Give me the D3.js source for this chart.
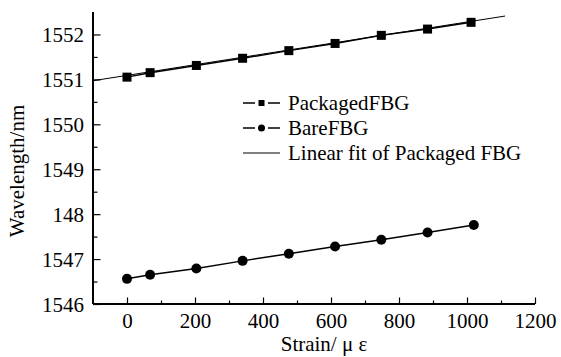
<!DOCTYPE html>
<html>
<head>
<meta charset="utf-8">
<script src="https://cdn.jsdelivr.net/npm/d3@7"></script>
<style>
  body { margin: 0; background: #fff; }
</style>
</head>
<body>
<svg id="chart" width="561" height="357"></svg>
<script>
// data
const strainPackaged = [0, 68, 204, 340, 476, 612, 748, 884, 1012];
const wavePackaged = [1551.05, 1551.15, 1551.31, 1551.47, 1551.64, 1551.80, 1551.98, 1552.12, 1552.27];
const strainBare = [0, 68, 204, 340, 476, 612, 748, 884, 1020];
const waveBare = [1546.56, 1546.65, 1546.79, 1546.96, 1547.12, 1547.28, 1547.43, 1547.59, 1547.76];
const fitStrain = [-100, 1112];
const fitWave = [1550.97, 1552.41];
const xTicks = [0, 200, 400, 600, 800, 1000, 1200];
const yTicks = [1546, 1547, 1548, 1549, 1550, 1551, 1552];
const yTickLabels = ["1546", "1547", "148", "1549", "1550", "1551", "1552"];
const legendLabels = ["PackagedFBG", "BareFBG", "Linear fit of Packaged FBG"];

const FONT = "'Liberation Serif', 'DejaVu Serif', serif";
const FS = 21;

const svg = d3.select("#chart");
const x = d3.scaleLinear().domain([-100, 1200]).range([93, 535]);
const y = d3.scaleLinear().domain([1546, 1552.5]).range([304, 12]);

// x axis (ticks pointing inward)
const xAxis = svg.append("g").attr("transform", "translate(0,304)");
xAxis.call(d3.axisBottom(x).tickValues(d3.range(0, 1201, 100)).tickSize(-3.5).tickFormat(""));
xAxis.call(g => g.selectAll(".tick line").attr("stroke-width", 1.2)
    .filter(d => d % 200 === 0).attr("y2", -6.5));
xAxis.selectAll(".tick")
    .filter(d => xTicks.includes(d))
    .append("text")
    .attr("y", 24)
    .attr("text-anchor", "middle")
    .attr("font-family", FONT)
    .attr("font-size", FS)
    .attr("fill", "#000")
    .text(d => d);
xAxis.select(".domain").attr("d", `M${x(-100)},0H${x(1200)}`).attr("stroke-width", 2);

// y axis
const yAxis = svg.append("g").attr("transform", "translate(93,0)");
yAxis.call(d3.axisLeft(y).tickValues(d3.range(0, 13).map(i => 1546 + i * 0.5)).tickSize(-4.5).tickFormat(""));
yAxis.call(g => g.selectAll(".tick line").attr("stroke-width", 1.2)
    .filter(d => Number.isInteger(d)).attr("x2", 7.5));
yAxis.selectAll(".tick")
    .filter(d => Number.isInteger(d))
    .append("text")
    .attr("x", -9)
    .attr("dy", "0.35em")
    .attr("text-anchor", "end")
    .attr("font-family", FONT)
    .attr("font-size", FS)
    .attr("fill", "#000")
    .text(d => yTickLabels[yTicks.indexOf(d)]);
yAxis.select(".domain").attr("d", `M0,${y(1546)}V${y(1552.5)}`).attr("stroke-width", 2);

// axis titles
svg.append("text")
    .attr("x", 324).attr("y", 351)
    .attr("text-anchor", "middle")
    .attr("font-family", FONT)
    .attr("font-size", FS)
    .text("Strain/ μ ε");
svg.append("text")
    .attr("transform", "translate(24,171) rotate(-90)")
    .attr("text-anchor", "middle")
    .attr("font-family", FONT)
    .attr("font-size", FS)
    .text("Wavelength/nm");

const line = d3.line().x(d => x(d[0])).y(d => y(d[1]));

// linear fit
svg.append("path")
    .datum(d3.zip(fitStrain, fitWave))
    .attr("d", line)
    .attr("fill", "none")
    .attr("stroke", "#000")
    .attr("stroke-width", 1);

// packaged
const packaged = d3.zip(strainPackaged, wavePackaged);
svg.append("path")
    .datum(packaged)
    .attr("d", line)
    .attr("fill", "none")
    .attr("stroke", "#000")
    .attr("stroke-width", 1.5);
svg.selectAll(".sq")
    .data(packaged)
    .join("rect")
    .attr("x", d => x(d[0]) - 4.5)
    .attr("y", d => y(d[1]) - 4.5)
    .attr("width", 9)
    .attr("height", 9)
    .attr("fill", "#000");

// bare
const bare = d3.zip(strainBare, waveBare);
svg.append("path")
    .datum(bare)
    .attr("d", line)
    .attr("fill", "none")
    .attr("stroke", "#000")
    .attr("stroke-width", 1.5);
svg.selectAll(".ci")
    .data(bare)
    .join("circle")
    .attr("cx", d => x(d[0]))
    .attr("cy", d => y(d[1]))
    .attr("r", 5)
    .attr("fill", "#000");

// legend
const legend = svg.append("g");
legendLabels.forEach((label, i) => {
    const ly = 103 + i * 25;
    const row = legend.append("g").attr("transform", `translate(0,${ly})`);
    if (i < 2) {
        row.append("line").attr("x1", 243).attr("x2", 255).attr("y1", 0).attr("y2", 0)
            .attr("stroke", "#000").attr("stroke-width", 1.5);
        row.append("line").attr("x1", 268).attr("x2", 280).attr("y1", 0).attr("y2", 0)
            .attr("stroke", "#000").attr("stroke-width", 1.5);
        if (i === 0) {
            row.append("rect").attr("x", 258.5).attr("y", -3).attr("width", 6).attr("height", 6).attr("fill", "#000");
        } else {
            row.append("circle").attr("cx", 261.5).attr("cy", 0).attr("r", 3.5).attr("fill", "#000");
        }
    } else {
        row.append("line").attr("x1", 243).attr("x2", 280).attr("y1", 0).attr("y2", 0)
            .attr("stroke", "#000").attr("stroke-width", 1);
    }
    row.append("text")
        .attr("x", 288)
        .attr("dy", "0.35em")
        .attr("font-family", FONT)
        .attr("font-size", FS)
        .text(label);
});
</script>
</body>
</html>
